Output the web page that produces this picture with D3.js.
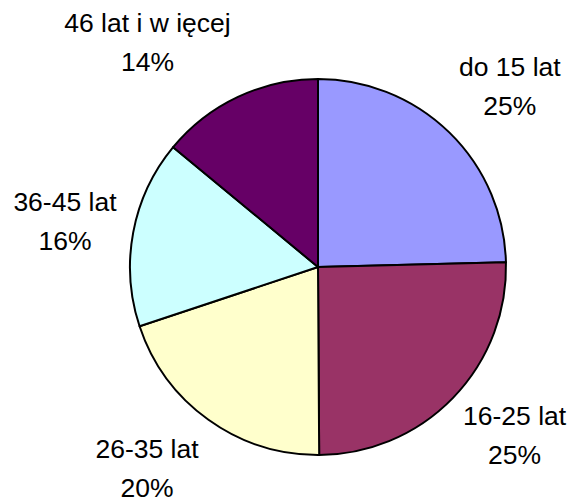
<!DOCTYPE html>
<html>
<head>
<meta charset="utf-8">
<script src="https://cdn.jsdelivr.net/npm/d3@7"></script>
<style>
  body { margin: 0; background: #fff; }
  text { font-family: "Liberation Sans", Arial, sans-serif; font-size: 26.5px; fill: #000; }
</style>
</head>
<body>
<svg id="mainsvg" width="575" height="502"></svg>
<script>
// age groups and their shares (%)
const categories = ['do 15 lat', '16-25 lat', '26-35 lat', '36-45 lat', '46 lat i w ięcej'];
const shares = [24.6, 25.3, 20.0, 16.1, 14.0];
const colors = ['#9999FF', '#993366', '#FFFFCC', '#CCFFFF', '#660066'];

let svg = d3.select('#mainsvg');
const cx = 318, cy = 267, radius = 188;
const labelRadius = 205, lineGap = 39;

const data = categories.map((c, i) => ({name: c, value: shares[i], color: colors[i]}));

const pie = d3.pie().sort(null).value(d => d.value);
const arcs = pie(data);

const arc = d3.arc().innerRadius(0).outerRadius(radius);
const labelArc = d3.arc().innerRadius(labelRadius).outerRadius(labelRadius);

let g = svg.append('g').attr('transform', `translate(${cx},${cy})`);

g.selectAll('path').data(arcs)
  .enter().append('path')
  .attr('d', arc)
  .attr('fill', d => d.data.color)
  .attr('stroke', '#000')
  .attr('stroke-width', 2)
  .attr('stroke-linejoin', 'round');

const clamp = v => Math.max(0, Math.min(1, v));

// labels sit outside the pie, the box pushed away from the anchor point
let labels = g.selectAll('g.label').data(arcs)
  .enter().append('g').attr('class', 'label');

labels.each(function(d) {
  const lg = d3.select(this);
  const pct = Math.round(d.data.value) + '%';
  const t1 = lg.append('text').attr('text-anchor', 'middle').text(d.data.name);
  const t2 = lg.append('text').attr('text-anchor', 'middle').text(pct);
  const w = Math.max(t1.node().getComputedTextLength(), t2.node().getComputedTextLength());
  const h = lineGap + 22;
  const a = (d.startAngle + d.endAngle) / 2;
  const [px, py] = labelArc.centroid(d);
  const fx = clamp(0.5 - 1.2 * Math.sin(a));
  const fy = 0.5 + 0.7 * Math.cos(a) + 0.08 * Math.max(0, Math.sin(a));
  const left = px - w * fx - 3 * Math.max(0, Math.sin(a));
  const top = py - h * fy;
  const mx = left + w / 2;
  t1.attr('x', mx).attr('y', top + 20);
  t2.attr('x', mx).attr('y', top + 20 + lineGap);
});
</script>
</body>
</html>
